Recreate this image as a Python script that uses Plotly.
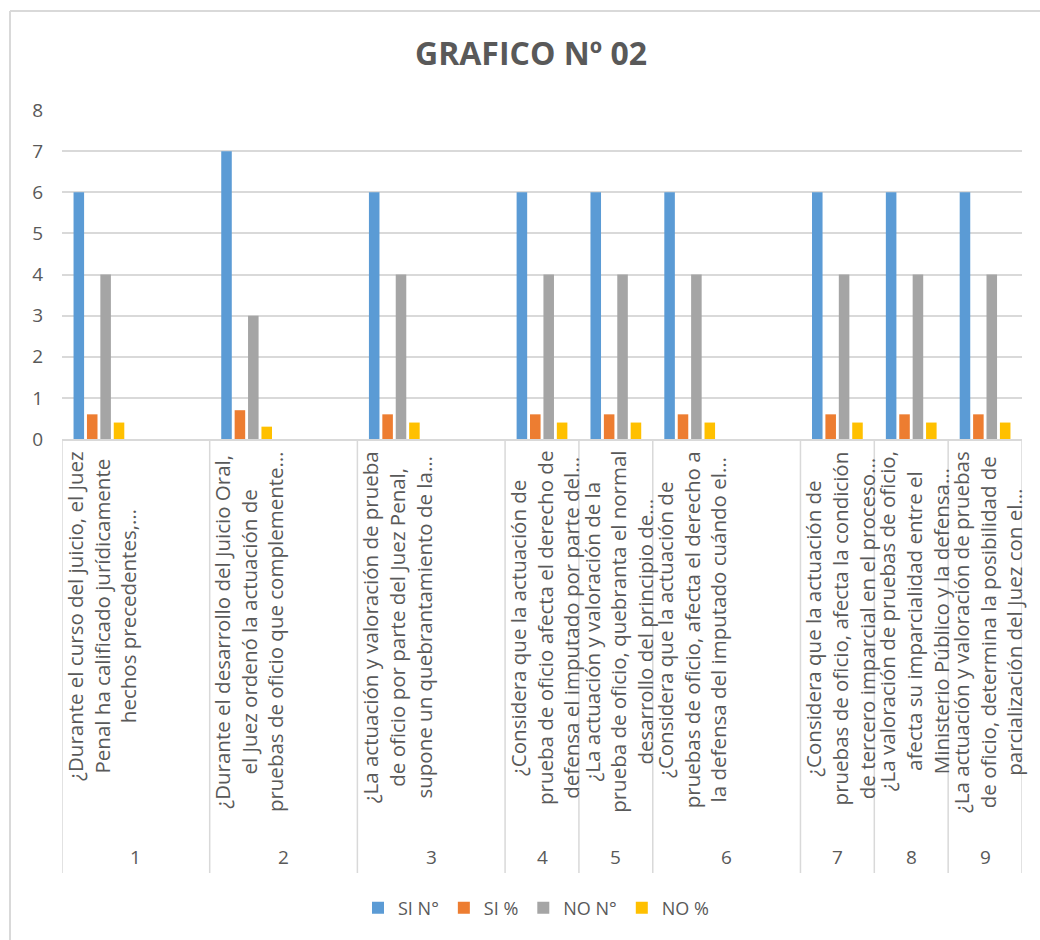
import plotly.graph_objects as go

# ---------------- data ----------------
groups = ["1", "1", "2", "2", "3", "3", "4", "5", "6", "6", "7", "8", "9"]
questions = [
    ["¿Durante el curso del juicio, el Juez", "Penal ha calificado jurídicamente", "hechos precedentes,…"],
    [],
    ["¿Durante el desarrollo del Juicio Oral,", "el Juez ordenó la actuación de", "pruebas de oficio que complemente…"],
    [],
    ["¿La actuación y valoración de prueba", "de oficio por parte del Juez Penal,", "supone un quebrantamiento de la…"],
    [],
    ["¿Considera que la actuación de", "prueba de oficio afecta el derecho de", "defensa el imputado por parte del…"],
    ["¿La actuación y valoración de la", "prueba de oficio, quebranta el normal", "desarrollo del principio de…"],
    ["¿Considera que la actuación de", "pruebas de oficio, afecta el derecho a", "la defensa del imputado cuándo el…"],
    [],
    ["¿Considera que la actuación de", "pruebas de oficio, afecta la condición", "de tercero imparcial en el proceso…"],
    ["¿La valoración de pruebas de oficio,", "afecta su imparcialidad entre el", "Ministerio Público y la defensa…"],
    ["¿La actuación y valoración de pruebas", "de oficio, determina la posibilidad de", "parcialización del Juez con el…"],
]
si_n = [6, None, 7, None, 6, None, 6, 6, 6, None, 6, 6, 6]
si_pct = [0.6, None, 0.7, None, 0.6, None, 0.6, 0.6, 0.6, None, 0.6, 0.6, 0.6]
no_n = [4, None, 3, None, 4, None, 4, 4, 4, None, 4, 4, 4]
no_pct = [0.4, None, 0.3, None, 0.4, None, 0.4, 0.4, 0.4, None, 0.4, 0.4, 0.4]
series_names = ["SI N°", "SI %", "NO N°", "NO %"]
series_values = [si_n, si_pct, no_n, no_pct]
colors = ["#5B9BD5", "#ED7D31", "#A5A5A5", "#FFC000"]
title_text = "GRAFICO Nº 02"
y_ticks = [0, 1, 2, 3, 4, 5, 6, 7, 8]

# ---------------- layout constants ----------------
W, H = 1040, 940
L, R, T, B = 62, 18, 110, 501
FONT = "Open Sans"
TXT = "#595959"
GRID = "#D9D9D9"
plot_h = H - T - B


def py_to_paper(py):
    return (H - B - py) / plot_h


def px_to_paper(px):
    return (px - L) / (W - L - R)


slots = list(range(len(groups)))

fig = go.Figure()
for name, vals, col in zip(series_names, series_values, colors):
    fig.add_trace(go.Bar(x=slots, y=vals, name=name, marker=dict(color=col, line=dict(width=0))))

annotations = []
shapes = []

# category (inner) labels
for i, lines in enumerate(questions):
    if not lines:
        continue
    annotations.append(dict(
        x=i, xref="x", y=py_to_paper(449), yref="paper",
        text="<br>".join(lines), textangle=-90, showarrow=False,
        xanchor="center", yanchor="top", align="center",
        xshift=2,
        font=dict(family=FONT, size=20.5, color=TXT),
    ))

# group boundaries and labels
bounds = [-0.5]
spans = []
start = 0
for i in range(1, len(groups) + 1):
    if i == len(groups) or groups[i] != groups[i - 1]:
        spans.append((groups[start], start, i - 1))
        bounds.append(i - 0.5)
        start = i
for b in bounds:
    shapes.append(dict(type="line", xref="x", yref="paper", x0=b, x1=b,
                       y0=0, y1=py_to_paper(873), line=dict(color=GRID, width=1.5)))
for g, s, e in spans:
    annotations.append(dict(
        x=(s + e) / 2, xref="x", y=py_to_paper(857), yref="paper",
        text=g, showarrow=False, xanchor="center", yanchor="middle",
        font=dict(family=FONT, size=19, color=TXT),
    ))

# outer chart border (top and left visible)
shapes.append(dict(type="line", xref="paper", yref="paper",
                   x0=px_to_paper(10), x1=px_to_paper(1045), y0=py_to_paper(11), y1=py_to_paper(11),
                   line=dict(color=GRID, width=2)))
shapes.append(dict(type="line", xref="paper", yref="paper",
                   x0=px_to_paper(10), x1=px_to_paper(10), y0=py_to_paper(11), y1=py_to_paper(945),
                   line=dict(color=GRID, width=2)))

fig.update_layout(
    width=W, height=H,
    margin=dict(l=L, r=R, t=T, b=B),
    paper_bgcolor="white", plot_bgcolor="white",
    barmode="group", bargap=0.274, bargroupgap=0.213,
    title=dict(text="<b>" + title_text + "</b>", x=531 / W, xref="container", xanchor="center",
               y=1 - 54 / H, yref="container", yanchor="middle",
               font=dict(family=FONT, size=32, color=TXT)),
    xaxis=dict(range=[-0.5, len(groups) - 0.5], showticklabels=False, showgrid=False,
               zeroline=False, showline=True, linecolor=GRID, linewidth=1.5, ticks=""),
    yaxis=dict(range=[0, 8], tickvals=y_ticks, showgrid=True, gridcolor=GRID, gridwidth=1.5,
               zeroline=False, showline=False, ticks="", ticklabelstandoff=18,
               tickfont=dict(family=FONT, size=19, color=TXT)),
    legend=dict(orientation="h", x=536 / W, xref="container", xanchor="center",
                y=(H - 908) / H, yref="container", yanchor="middle",
                font=dict(family=FONT, size=18, color=TXT), itemclick=False),
    annotations=annotations,
    shapes=shapes,
)

fig.write_html("out.html", config={"displayModeBar": False},
               post_script="document.body.style.margin='0';document.body.style.overflow='hidden';")
